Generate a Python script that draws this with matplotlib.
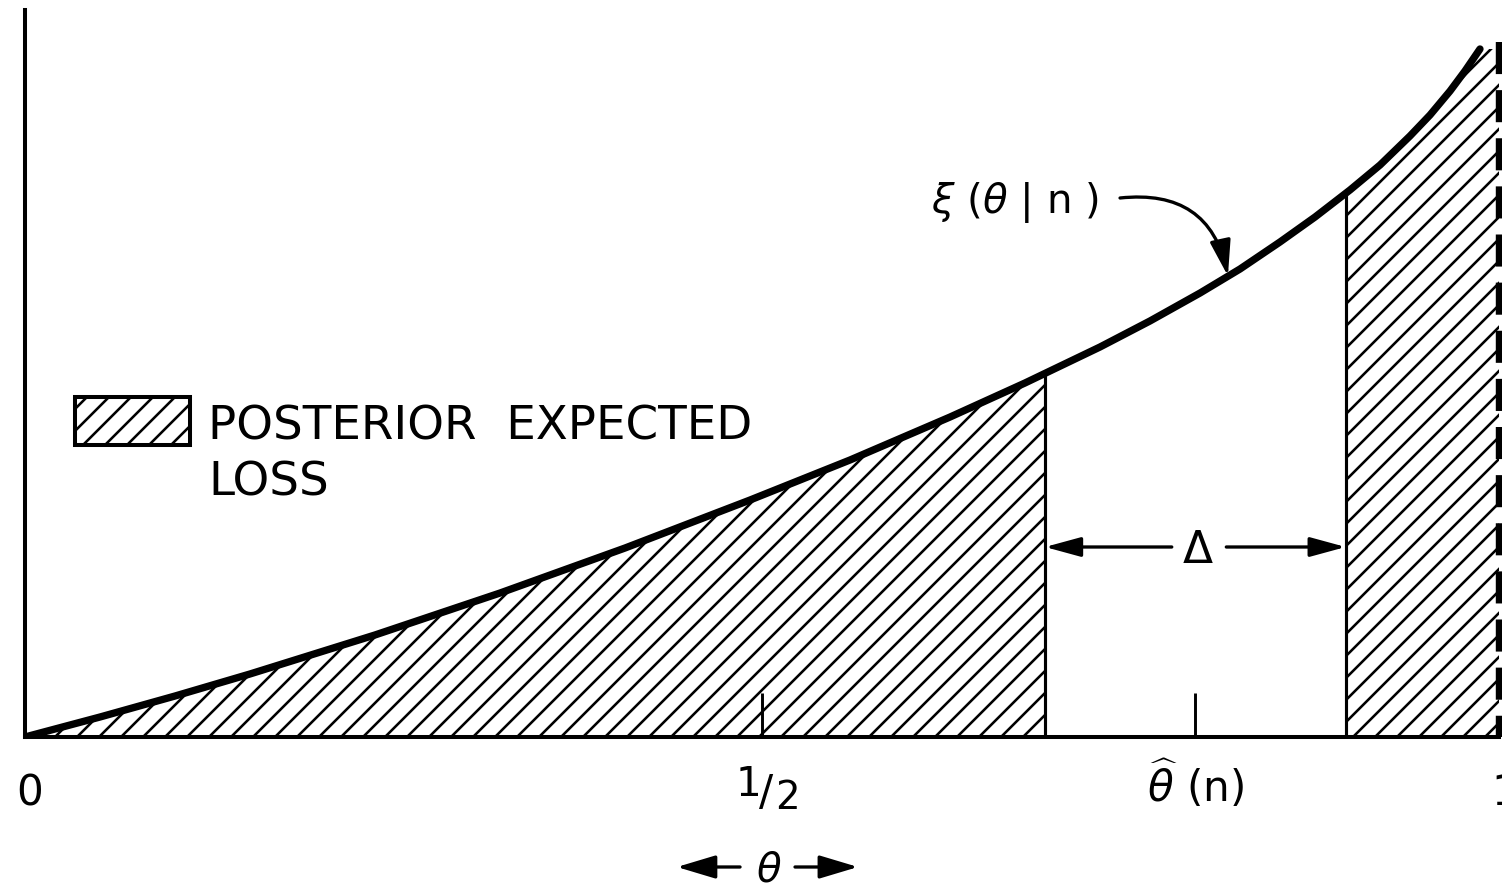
import numpy as np
import matplotlib
matplotlib.use("Agg")
import matplotlib.pyplot as plt
from matplotlib.patches import Rectangle

# Posterior density xi(theta | n), read along theta in [0, 1]
theta_pts = [0.0, 0.0509, 0.1018, 0.1526, 0.2374, 0.3223, 0.4071, 0.4919,
             0.5597, 0.6276, 0.6784, 0.7293, 0.7632, 0.7972, 0.8243,
             0.8514, 0.8752, 0.8989, 0.9193, 0.9396, 0.9532, 0.9668,
             0.9769, 0.9871]
density_pts = [0.00, 0.20, 0.41, 0.63, 1.02, 1.44, 1.89, 2.37,
               2.77, 3.20, 3.54, 3.90, 4.16, 4.44, 4.68,
               4.95, 5.20, 5.47, 5.72, 6.01, 6.22, 6.46,
               6.66, 6.88]

theta_hat = 0.794          # Bayes estimate
delta = 0.204              # width of the acceptance interval
lo, hi = theta_hat - delta / 2, theta_hat + delta / 2

tick_pos = [0.0, theta_hat, 1.0]
tick_text = ["0", r"$\widehat{\theta}$ (n)", "1"]

curve_label = r"$\xi$ ($\theta$ | n )"
legend_lines = ["POSTERIOR  EXPECTED", "LOSS"]

DPI = 132
plt.rcParams["hatch.linewidth"] = 1.4
plt.rcParams["font.family"] = ["DejaVu Sans"]
plt.rcParams["mathtext.fontset"] = "dejavusans"

fig = plt.figure(figsize=(1502 / DPI, 888 / DPI), dpi=DPI)
ax = fig.add_axes([25 / 1502, 151 / 888, 1474 / 1502, 727 / 888])
ax.set_xlim(0, 1)
ax.set_ylim(0, 7.27)

th = np.asarray(theta_pts)
de = np.asarray(density_pts)


def region(a, b):
    inner = th[(th > a) & (th < b)]
    xs = np.concatenate(([a], inner, [b]))
    ys = np.interp(xs, th, de)
    return xs, ys


# hatched tails: posterior expected loss
for a, b in [(0.0, lo), (hi, 1.0)]:
    xs, ys = region(a, b)
    ax.fill_between(xs, 0, ys, facecolor="white", edgecolor="black",
                    hatch="//", linewidth=0, zorder=1)

# interval boundaries
ax.vlines([lo, hi], 0, np.interp([lo, hi], th, de), color="black",
          linewidth=1.7, zorder=2)

# density curve
ax.plot(th, de, color="black", linewidth=4.0, solid_capstyle="round",
        solid_joinstyle="round", zorder=3)

# dashed boundary at theta = 1
ax.plot([1.0, 1.0], [6.95, 0], color="black", linewidth=3.5,
        dashes=(5, 2.5), zorder=3, clip_on=False)

# axes
for s in ["top", "right"]:
    ax.spines[s].set_visible(False)
ax.spines["left"].set_linewidth(2.2)
ax.spines["bottom"].set_linewidth(2.2)
ax.spines["left"].set_zorder(4)
ax.spines["bottom"].set_zorder(4)
ax.set_yticks([])
ax.set_xticks([0.5, theta_hat])
ax.set_xticklabels([])
ax.tick_params(axis="x", direction="in", length=24, width=1.6, color="black")

# tick labels
label_y = [-0.68, -0.65, -0.68]
label_dx = [0.0034, 0.0, 0.004]
for p, t, y, dx in zip(tick_pos, tick_text, label_y, label_dx):
    ax.text(p + dx, y, t, ha="center", va="baseline", fontsize=23,
            clip_on=False)

# the one-half label, set as a hand-lettered fraction
ax.text(0.5 - 0.0095, -0.59, "1", ha="center", va="baseline", fontsize=22)
ax.text(0.5 + 0.0030, -0.68, "/", ha="center", va="baseline", fontsize=23)
ax.text(0.5 + 0.0175, -0.72, "2", ha="center", va="baseline", fontsize=21)

# theta axis caption with arrows
ax.text(0.5047, -1.44, r"$\theta$", ha="center", va="baseline", fontsize=22)
arrow_kw = dict(arrowstyle="-|>,head_length=0.6,head_width=0.18",
                color="black", lw=1.8, shrinkA=0, shrinkB=0,
                mutation_scale=30)
ax.annotate("", xy=(0.4423, -1.30), xytext=(0.4851, -1.30),
            arrowprops=arrow_kw, annotation_clip=False)
ax.annotate("", xy=(0.5651, -1.30), xytext=(0.5224, -1.30),
            arrowprops=arrow_kw, annotation_clip=False)

# Delta marker between the interval boundaries
ax.text(theta_hat + 0.002, 1.74, r"$\Delta$", ha="center", va="baseline",
        fontsize=24)
delta_kw = dict(arrowstyle="-|>,head_length=0.55,head_width=0.15",
                color="black", lw=1.8, shrinkA=0, shrinkB=0,
                mutation_scale=30)
ax.annotate("", xy=(lo, 1.90), xytext=(theta_hat - 0.016, 1.90),
            arrowprops=delta_kw)
ax.annotate("", xy=(hi, 1.90), xytext=(theta_hat + 0.021, 1.90),
            arrowprops=delta_kw)

# curve label with curved pointer
ax.text(0.6716, 5.24, curve_label, ha="center", va="baseline", fontsize=22)
ax.annotate("", xy=(0.8161, 4.61), xytext=(0.7429, 5.39),
            arrowprops=dict(arrowstyle="-|>,head_length=0.55,head_width=0.16",
                            color="black", lw=1.8, shrinkA=0, shrinkB=0,
                            mutation_scale=30,
                            connectionstyle="arc3,rad=-0.45"))

# legend key
ax.add_patch(Rectangle((0.0339, 2.92), 0.078, 0.48, facecolor="white",
                       edgecolor="black", hatch="//", linewidth=2.2, zorder=3))
ax.text(0.1242, 2.97, legend_lines[0], ha="left", va="baseline", fontsize=25.5)
ax.text(0.1242, 2.42, legend_lines[1], ha="left", va="baseline", fontsize=25.5)

fig.savefig("out.png", dpi=DPI, facecolor="white")
